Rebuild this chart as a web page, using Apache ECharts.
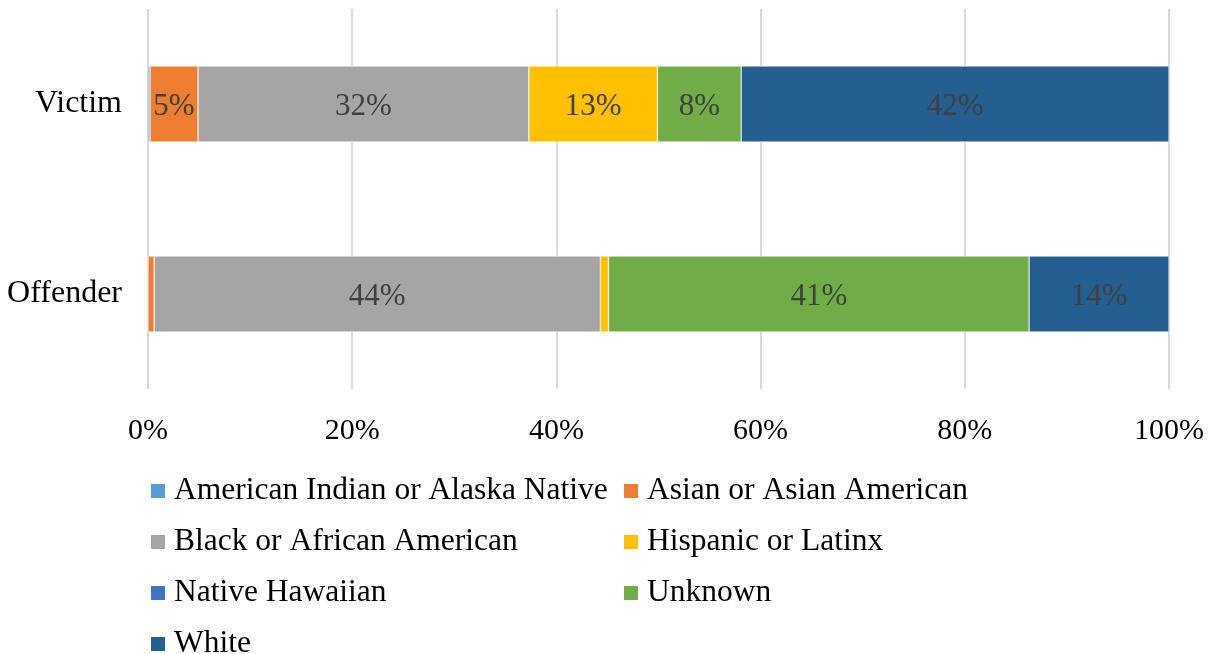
<!DOCTYPE html>
<html>
<head>
<meta charset="utf-8">
<script src="https://cdn.jsdelivr.net/npm/echarts@6/dist/echarts.min.js"></script>
<style>
  html, body { margin: 0; padding: 0; background: #fff; }
  #chart { width: 1211px; height: 654px; }
</style>
</head>
<body>
<div id="chart"></div>
<script>
const categories = ['Offender', 'Victim'];
const seriesNames = [
  'American Indian or Alaska Native',
  'Asian or Asian American',
  'Black or African American',
  'Hispanic or Latinx',
  'Native Hawaiian',
  'Unknown',
  'White'
];
// values per series: [Offender, Victim] in percent
const americanIndian = [0, 0.2];
const asian = [0.6, 4.7];
const black = [43.7, 32.4];
const hispanic = [0.8, 12.6];
const nativeHawaiian = [0, 0];
const unknown = [41.2, 8.2];
const white = [13.7, 41.9];
const colors = ['#5B9BD5', '#ED7D31', '#A5A5A5', '#FFC000', '#4472C4', '#70AD47', '#255E91'];
const tickLabels = ['0%', '20%', '40%', '60%', '80%', '100%'];

const allValues = [americanIndian, asian, black, hispanic, nativeHawaiian, unknown, white];
const font = '"Liberation Serif", "Times New Roman", serif';

const chart = echarts.init(document.getElementById('chart'));

const series = seriesNames.map((name, i) => {
  return {
    name: name,
    type: 'bar',
    stack: 'total',
    barWidth: '40%',
    itemStyle: { color: colors[i], borderColor: '#fff', borderWidth: 0.5 },
    label: {
      show: true,
      position: 'inside',
      offset: [0, 3],
      color: '#404040',
      fontFamily: font,
      fontSize: 31,
      formatter(p) {
        return p.value >= 2 ? Math.round(p.value) + '%' : '';
      },
    },
    data: allValues[i],
  };
});

const legendBase = {
  orient: 'vertical',
  top: 470,
  height: 200,
  itemWidth: 16,
  itemHeight: 16,
  itemGap: 19,
  icon: 'rect',
  selectedMode: false,
  textStyle: { fontFamily: font, fontSize: 31.5, color: '#000', padding: [0, 0, 0, 3] },
};

chart.setOption({
  animation: false,
  color: colors,
  grid: { left: 148, right: 42, top: 9, bottom: 265, containLabel: false },
  xAxis: {
    type: 'value',
    min: 0,
    max: 100,
    interval: 20,
    axisLine: { show: false },
    axisTick: { show: false },
    splitLine: { lineStyle: { color: '#D9D9D9', width: 2 } },
    axisLabel: {
      margin: 27,
      color: '#000',
      fontFamily: font,
      fontSize: 30,
      formatter(v) {
        return tickLabels[v / 20];
      },
    },
  },
  yAxis: {
    type: 'category',
    data: categories,
    axisLine: { show: false },
    axisTick: { show: false },
    axisLabel: {
      margin: 26,
      color: '#000',
      fontFamily: font,
      fontSize: 32,
    },
  },
  legend: [
    Object.assign({}, legendBase, {
      left: 144,
      data: [seriesNames[0], seriesNames[2], seriesNames[4], seriesNames[6]],
    }),
    Object.assign({}, legendBase, {
      left: 617,
      data: [seriesNames[1], seriesNames[3], seriesNames[5]],
    }),
  ],
  series: series,
});
</script>
</body>
</html>
